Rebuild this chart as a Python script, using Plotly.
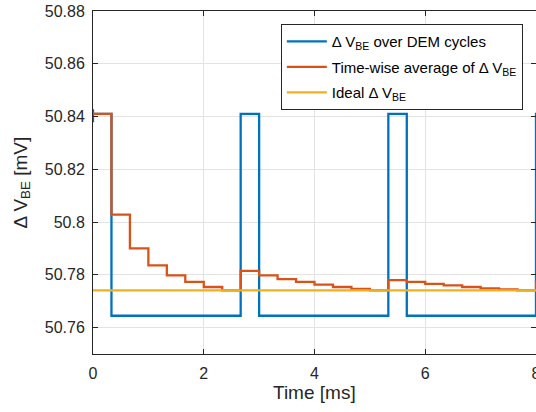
import plotly.graph_objects as go

# Step start times (ms), one DEM cycle = 1/3 ms
time_ms = [0, 0, 0, 0.3333, 0.6667, 1.0, 1.3333, 1.6667, 2.0, 2.3333, 2.6667, 3.0,
           3.3333, 3.6667, 4.0, 4.3333, 4.6667, 5.0, 5.3333, 5.6667, 6.0,
           6.3333, 6.6667, 7.0, 7.3333, 7.6667, 8.0, 8.3333]

# Delta V_BE over DEM cycles (mV)
dvbe = [50.8428, 50.8378,
        50.841, 50.7645, 50.7645, 50.7645, 50.7645, 50.7645, 50.7645, 50.7645,
        50.841, 50.7645, 50.7645, 50.7645, 50.7645, 50.7645, 50.7645, 50.7645,
        50.841, 50.7645, 50.7645, 50.7645, 50.7645, 50.7645, 50.7645, 50.7645,
        50.841, 50.841]

avg_t = time_ms[2:]
# Time-wise average of Delta V_BE (mV)
avg = [50.841, 50.8028, 50.7900, 50.7836, 50.7798, 50.7773, 50.7754, 50.7741,
       50.7815, 50.7798, 50.7784, 50.7773, 50.7763, 50.7754, 50.7747, 50.7741,
       50.7780, 50.7773, 50.7766, 50.7760, 50.7754, 50.7749, 50.7745, 50.7741,
       50.7773, 50.7773]

ideal_t = [0, 8.3333]
ideal = [50.7741, 50.7741]

x_ticks = [0, 2, 4, 6, 8]
y_ticks = [50.76, 50.78, 50.80, 50.82, 50.84, 50.86, 50.88]
y_tick_text = ["50.76", "50.78", "50.8", "50.82", "50.84", "50.86", "50.88"]

x_title = "Time [ms]"
y_title = "Δ V<sub>BE</sub> [mV]"

blue, orange, yellow = "#0072BD", "#D95319", "#EDB120"
dark = "#262626"
font = "Liberation Sans, Arial, sans-serif"

fig = go.Figure()
fig.add_trace(go.Scatter(x=time_ms, y=dvbe, mode="lines", line_shape="hv",
                         line=dict(color=blue, width=2.3),
                         name="Δ V<sub>BE</sub> over DEM cycles", legendgroup="a"))
fig.add_trace(go.Scatter(x=avg_t, y=avg, mode="lines", line_shape="hv",
                         line=dict(color=orange, width=2.3),
                         name="Time-wise average of Δ V<sub>BE</sub>", legendgroup="b"))
fig.add_trace(go.Scatter(x=ideal_t, y=ideal, mode="lines",
                         line=dict(color=yellow, width=2.3),
                         name="Ideal Δ V<sub>BE</sub>", legendgroup="c"))

axis_common = dict(showline=True, linecolor=dark, linewidth=1, mirror="ticks",
                   ticks="inside", ticklen=5, tickcolor=dark,
                   showgrid=True, gridcolor="#E3E3E3", gridwidth=1,
                   zeroline=False, automargin=False, ticklabeloverflow="allow",
                   tickfont=dict(family=font, size=16, color=dark))

fig.update_xaxes(range=[0, 8], tickvals=x_ticks, ticklabelstandoff=5, **axis_common)
fig.update_yaxes(range=[50.75, 50.88], tickvals=y_ticks, ticktext=y_tick_text,
                 ticklabelstandoff=4, **axis_common)

fig.add_annotation(text=x_title, x=0.5, y=0, xref="paper", yref="paper",
                   xanchor="center", yanchor="middle", yshift=-38, showarrow=False,
                   font=dict(family=font, size=19, color=dark))
fig.add_annotation(text=y_title, x=0, y=0.5, xref="paper", yref="paper",
                   xanchor="center", yanchor="middle", xshift=-72, textangle=-90,
                   showarrow=False, font=dict(family=font, size=19, color=dark))

fig.update_layout(
    width=536, height=412,
    margin=dict(l=93, r=0, t=11, b=58),
    paper_bgcolor="white", plot_bgcolor="white",
    showlegend=True,
    legend=dict(x=0.424, y=0.962, xanchor="left", yanchor="top",
                bgcolor="white", bordercolor=dark, borderwidth=1,
                font=dict(family=font, size=15, color="black"),
                itemwidth=40, traceorder="grouped", tracegroupgap=3),
)

fig.write_html("out.html", config={"displayModeBar": False},
               post_script="document.body.style.margin='0px';")
